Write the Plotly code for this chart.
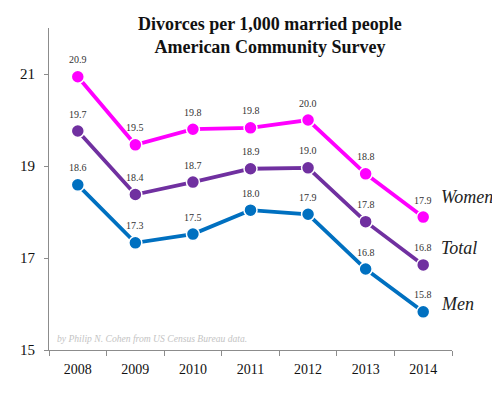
import plotly.graph_objects as go

years = ["2008", "2009", "2010", "2011", "2012", "2013", "2014"]
women = [20.94, 19.46, 19.80, 19.83, 20.00, 18.83, 17.89]
total = [19.76, 18.38, 18.65, 18.94, 18.96, 17.79, 16.85]
men = [18.59, 17.33, 17.52, 18.04, 17.95, 16.76, 15.83]
women_labels = ["20.9", "19.5", "19.8", "19.8", "20.0", "18.8", "17.9"]
total_labels = ["19.7", "18.4", "18.7", "18.9", "19.0", "17.8", "16.8"]
men_labels = ["18.6", "17.3", "17.5", "18.0", "17.9", "16.8", "15.8"]
series_names = ["Women", "Total", "Men"]
y_ticks = [15, 17, 19, 21]

colors = ["#FF00FF", "#7030A0", "#0070C0"]
name_shift = [20, 17, 8]
SERIF = "Liberation Serif, Times New Roman, serif"

fig = go.Figure()
annotations = []
for name, vals, labs, col, ns in zip(series_names, [women, total, men],
                                     [women_labels, total_labels, men_labels], colors, name_shift):
    fig.add_trace(go.Scatter(
        x=years, y=vals, mode="lines+markers", name=name,
        line=dict(color=col, width=3.8),
        marker=dict(size=13, color=col, line=dict(color="white", width=1.5)),
        showlegend=False, hoverinfo="skip"))
    for i, (yv, t) in enumerate(zip(vals, labs)):
        annotations.append(dict(x=i, y=yv, text=t, showarrow=False, yshift=17,
                                font=dict(family=SERIF, size=10, color="#333333")))
    annotations.append(dict(x=len(years) - 1, y=vals[-1], text="<i>" + name + "</i>",
                            showarrow=False, xanchor="left", xshift=16, yshift=ns,
                            font=dict(family=SERIF, size=18, color="#222222")))

annotations.append(dict(xref="paper", yref="paper", x=0.015, y=0.037, xanchor="left",
                        yanchor="middle",
                        text="<i>by Philip N. Cohen from US Census Bureau data.</i>",
                        showarrow=False, font=dict(family=SERIF, size=9.6, color="#C4C4C4")))
annotations.append(dict(xref="paper", yref="paper", x=0.549, y=1, xanchor="center",
                        yanchor="middle", yshift=-7, showarrow=False,
                        text="<b>Divorces per 1,000 married people<br>American Community Survey</b>",
                        font=dict(family=SERIF, size=18, color="#111111")))

fig.update_layout(
    width=500, height=397,
    margin=dict(l=36, r=56, t=20, b=55),
    paper_bgcolor="white", plot_bgcolor="white",
    annotations=annotations,
    xaxis=dict(type="category", showgrid=False, showline=True, linecolor="#8C8C8C", linewidth=1,
               ticks="outside", tickson="boundaries", ticklen=5, tickcolor="#8C8C8C",
               ticklabelstandoff=6,
               tickfont=dict(family=SERIF, size=14, color="#111111"), range=[-0.5, 6.5]),
    yaxis=dict(range=[15, 22], tickvals=y_ticks, showgrid=False, zeroline=False, showline=True,
               linecolor="#8C8C8C", linewidth=1, ticks="outside", ticklen=4, tickcolor="#8C8C8C",
               ticklabelstandoff=6,
               tickfont=dict(family=SERIF, size=15, color="#111111")),
)
fig.write_html("out.html")
